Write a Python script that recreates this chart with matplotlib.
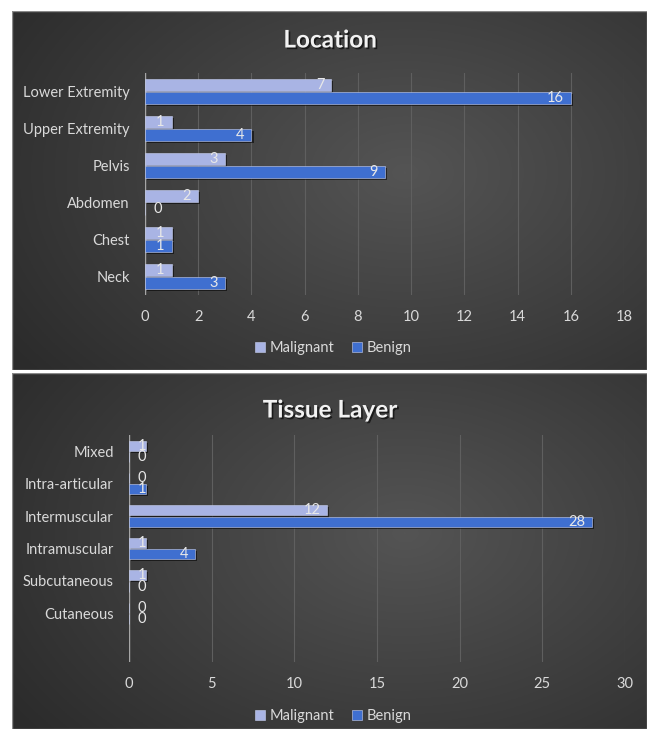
import numpy as np
import matplotlib
matplotlib.use("Agg")
import matplotlib.pyplot as plt
from matplotlib import patheffects
from matplotlib.patches import Patch, Rectangle

plt.rcParams["font.family"] = ["Lato", "DejaVu Sans"]

# --- data ---
location_cats = ["Lower Extremity", "Upper Extremity", "Pelvis", "Abdomen", "Chest", "Neck"]
location_malignant = [7, 1, 3, 2, 1, 1]
location_benign = [16, 4, 9, 0, 1, 3]

tissue_cats = ["Mixed", "Intra-articular", "Intermuscular", "Intramuscular", "Subcutaneous", "Cutaneous"]
tissue_malignant = [1, 0, 12, 1, 1, 0]
tissue_benign = [0, 1, 28, 4, 0, 0]

series_names = ["Malignant", "Benign"]
series_colors = ["#A9B4E4", "#3F6FD0"]
text_color = "#D9D9D9"

W, H = 647, 729
fig = plt.figure(figsize=(W / 100, H / 100), dpi=100)


def px_rect(x0, y0, x1, y1):
    return [x0 / W, 1 - y1 / H, (x1 - x0) / W, (y1 - y0) / H]


def panel_background(rect):
    bg = fig.add_axes(px_rect(*rect), zorder=0)
    yy, xx = np.mgrid[0:1:200j, 0:1:300j]
    r = np.sqrt(((xx - 0.62) / 0.75) ** 2 + ((yy - 0.45) / 0.9) ** 2)
    shade = 0.33 - 0.16 * np.clip(r, 0, 1)
    bg.imshow(np.dstack([shade] * 3), aspect="auto", extent=(0, 1, 0, 1))
    bg.add_patch(Rectangle((0, 0), 1, 1, transform=bg.transAxes, fill=False,
                           edgecolor="#8a8a8a", lw=1.0))
    bg.axis("off")


def bar_panel(rect, cats, mal, ben, xmax, step, nslots):
    ax = fig.add_axes(px_rect(*rect), zorder=1)
    ax.patch.set_visible(False)
    y = np.arange(len(cats))
    h = 0.31
    off = 0.175
    shadow = [patheffects.SimplePatchShadow(offset=(1.5, -1.5), shadow_rgbFace="black", alpha=0.55),
              patheffects.Normal()]
    for vals, dy, color in [(mal, -off, series_colors[0]), (ben, off, series_colors[1])]:
        bars = ax.barh(y + dy, vals, height=h, color=color, edgecolor="#c8d0f0", linewidth=0.4, zorder=3)
        for b in bars:
            b.set_path_effects(shadow)
        for yi, v in zip(y + dy, vals):
            if v < xmax / 20:
                ax.annotate(str(v), (0, yi), xytext=(6, 0), textcoords="offset points",
                            ha="left", va="center", color="#E8E8E8", fontsize=10.5, zorder=4)
            else:
                ax.annotate(str(v), (v, yi), xytext=(-5, 0), textcoords="offset points",
                            ha="right", va="center", color="#E8E8E8", fontsize=10.5, zorder=4)
    ax.set_xlim(0, xmax)
    ax.set_ylim(nslots - 0.5, -0.5)
    ax.set_xticks(np.arange(0, xmax + step, step))
    ax.set_yticks(y)
    ax.set_yticklabels(cats)
    ax.grid(axis="x", color="#5f5f5f", lw=0.8, zorder=0)
    ax.axvline(0, color="#a6a6a6", lw=1.0, zorder=2)
    for s in ax.spines.values():
        s.set_visible(False)
    ax.tick_params(axis="both", length=0, colors=text_color, labelsize=10.5)
    ax.tick_params(axis="x", pad=11)
    ax.tick_params(axis="y", pad=11)
    return ax


def legend_at(ax, cy):
    handles = [Patch(facecolor=c, edgecolor="#c8d0f0", linewidth=0.4) for c in series_colors]
    leg = ax.legend(handles, series_names, loc="center", bbox_to_anchor=(333 / W, 1 - cy / H),
                    bbox_transform=fig.transFigure, ncol=2, frameon=False, fontsize=10.5,
                    handlelength=0.7, handleheight=0.7, handletextpad=0.3, columnspacing=1.2)
    for t in leg.get_texts():
        t.set_color(text_color)


title_fx = [patheffects.withSimplePatchShadow(offset=(1.2, -1.2), shadow_rgbFace="black", alpha=0.6)]

# top panel
panel_background((12, 11, 647, 370))
ax1 = bar_panel((145, 73, 624, 295), location_cats, location_malignant, location_benign, 18, 2, 6)
legend_at(ax1, 348)
fig.text(330 / W, 1 - 40 / H, "Location", ha="center", va="center", fontsize=17.5,
         fontweight="bold", color="#F2F2F2", path_effects=title_fx)

# bottom panel
panel_background((12, 373, 647, 729))
ax2 = bar_panel((129, 435, 625, 662), tissue_cats, tissue_malignant, tissue_benign, 30, 5, 7)
legend_at(ax2, 716)
fig.text(330 / W, 1 - 410 / H, "Tissue Layer", ha="center", va="center", fontsize=17.5,
         fontweight="bold", color="#F2F2F2", path_effects=title_fx)

fig.savefig("out.png", dpi=100, facecolor="white")
plt.close(fig)
